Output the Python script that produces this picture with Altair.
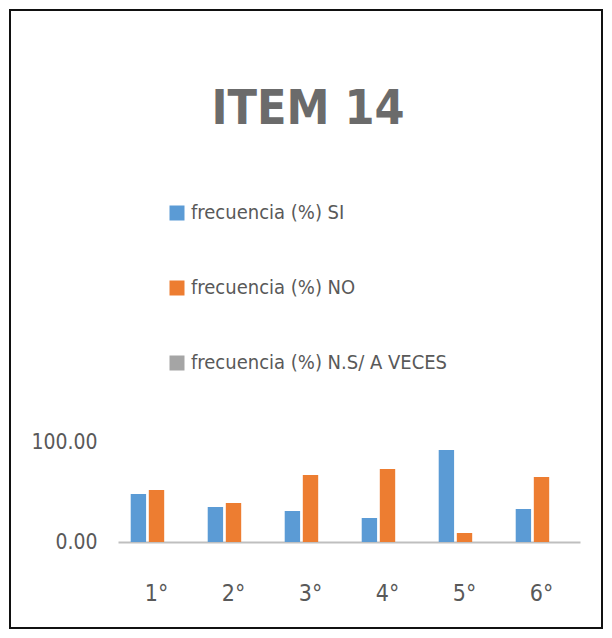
import altair as alt
import pandas as pd

FONT = "DejaVu Sans Condensed, Liberation Sans Narrow, sans-serif"
TXT = "#595959"

grados = ["1°", "2°", "3°", "4°", "5°", "6°"]
series = ["frecuencia (%) SI", "frecuencia (%) NO", "frecuencia (%) N.S/ A VECES"]
colores = ["#5B9BD5", "#ED7D31", "#A5A5A5"]
si = [48, 35, 31, 24, 92, 33]
no = [52, 39, 67, 73, 9, 65]
ns = [0, 0, 0, 0, 0, 0]
y_ticks = [0, 100]

rows = []
for s, vals in zip(series, [si, no, ns]):
    for g, v in zip(grados, vals):
        rows.append({"grado": g, "serie": s, "valor": v})
df = pd.DataFrame(rows)

bars = alt.Chart(df).mark_bar().encode(
    x=alt.X(
        "grado:N", sort=grados,
        scale=alt.Scale(paddingInner=0.33, paddingOuter=0.165),
        axis=alt.Axis(title=None, labelAngle=0, ticks=False, tickSize=0,
                      domainColor="#BFBFBF", domainWidth=2,
                      labelFont=FONT, labelFontSize=23, labelColor=TXT,
                      labelPadding=40),
    ),
    xOffset=alt.XOffset("serie:N", sort=series, scale=alt.Scale(paddingInner=0.15)),
    y=alt.Y(
        "valor:Q",
        scale=alt.Scale(domain=[0, 100]),
        axis=alt.Axis(title=None, values=y_ticks, format=".2f", grid=False,
                      domain=False, ticks=False, tickSize=0,
                      labelFont=FONT, labelFontSize=21, labelColor=TXT,
                      labelPadding=21),
    ),
    color=alt.Color(
        "serie:N", sort=series,
        scale=alt.Scale(domain=series, range=colores),
        legend=alt.Legend(title=None, orient="none", legendX=49, legendY=-239,
                          direction="vertical", symbolType="square",
                          symbolSize=225, symbolStrokeWidth=0,
                          labelFont=FONT, labelFontSize=20, labelColor=TXT,
                          labelLimit=500, labelOffset=4, rowPadding=55,
                          padding=0),
    ),
)

border = alt.Chart(pd.DataFrame({"a": [0]})).mark_rect(
    fillOpacity=0, stroke="#111111", strokeWidth=2
).encode(
    x=alt.value(-108), x2=alt.value(484), y=alt.value(-432), y2=alt.value(186)
)

chart = alt.layer(border, bars).properties(
    width=462,
    height=100,
    background="white",
    autosize=alt.AutoSizeParams(type="none"),
    padding={"left": 110, "top": 434, "right": 24, "bottom": 88},
    title=alt.Title("ITEM 14", font=FONT, fontSize=48, fontWeight="bold",
                    color="#6b6b6b", anchor="middle", frame="group", dx=-41,
                    baseline="alphabetic", offset=0, dy=163),
).configure_view(stroke="transparent", strokeWidth=0)

chart.save("out.html", embed_options={"renderer": "svg", "actions": False})
